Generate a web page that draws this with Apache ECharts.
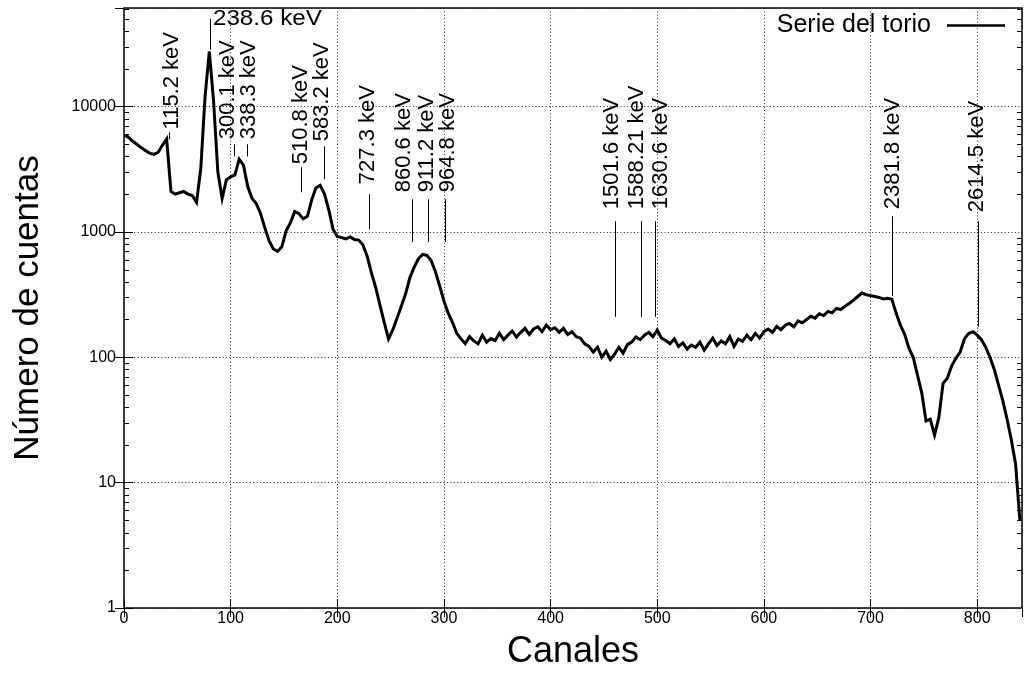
<!DOCTYPE html>
<html>
<head>
<meta charset="utf-8">
<script src="https://cdn.jsdelivr.net/npm/echarts@6/dist/echarts.min.js"></script>
<style>
  html, body { margin: 0; padding: 0; background: #fff; }
  #chart { width: 1024px; height: 675px; }
</style>
</head>
<body>
<div id="chart"></div>
<script>
// Thorium series gamma spectrum: counts per channel, sampled every 4 channels.
const CHANNEL_STEP = 4;
const counts = [
  5900, 5700, 5300, 5000, 4700, 4450, 4250, 4150, 4300, 4900,   // 0-36
  5500, 2100, 2000, 2050, 2100, 2000, 1950, 1720, 3200, 12000,  // 40-76
  27500, 11000, 3000, 1850, 2600, 2750, 2850, 3800, 3400, 2300, // 80-116
  1850, 1680, 1400, 1080, 850, 730, 700, 760, 1020, 1180,       // 120-156
  1450, 1400, 1270, 1330, 1800, 2250, 2350, 2000, 1500, 1050,   // 160-196
  920, 900, 880, 910, 870, 860, 790, 640, 470, 360,             // 200-236
  260, 190, 140, 165, 205, 255, 320, 430, 520, 610,             // 240-276
  660, 650, 590, 480, 370, 280, 225, 190, 155, 140,             // 280-316
  128, 146, 135, 128, 150, 132, 141, 136, 155, 138,             // 320-356
  150, 162, 145, 158, 170, 152, 168, 175, 160, 180,             // 360-396
  166, 172, 158, 170, 152, 160, 146, 142, 128, 122,             // 400-436
  110, 120, 100, 112, 96, 106, 120, 108, 126, 132,              // 440-476
  145, 138, 150, 158, 146, 165, 142, 136, 128, 140,             // 480-516
  122, 130, 116, 125, 120, 132, 114, 128, 142, 124,             // 520-556
  135, 128, 146, 122, 140, 134, 150, 138, 155, 142,             // 560-596
  160, 168, 158, 176, 166, 180, 186, 175, 195, 188,             // 600-636
  200, 212, 205, 222, 215, 232, 226, 245, 240, 255,             // 640-676
  268, 285, 305, 325, 315, 310, 305, 300, 292, 295,             // 680-716
  290, 225, 180, 152, 118, 100, 72, 52, 31, 32,                 // 720-756
  24, 33, 62, 68, 85, 98, 110, 140, 155, 160,                   // 760-796
  150, 138, 120, 100, 80, 60, 45, 32, 22, 14,                   // 800-836
  5                                                             // 840
];
const channels = counts.map((_, i) => i * CHANNEL_STEP);

// Axis ranges and tick labels
const X_MAX = 842;
const Y_MIN = 1;
const Y_MAX = 61000;
const yDecades = [1, 10, 100, 1000, 10000];

// Peak annotations: leader line channel, label channel, leader ends and label start (counts)
const peakLabels   = ['115.2 keV', '238.6 keV', '300.1 keV', '338.3 keV', '510.8 keV', '583.2 keV', '727.3 keV',
                      '860.6 keV', '911.2 keV', '964.8 keV', '1501.6 keV', '1588.21 keV', '1630.6 keV',
                      '2381.8 keV', '2614.5 keV'];
const leaderChannel = [42.5, 80.6, 103.1, 115.3, 165.9, 187.5, 229.9, 269.7, 285.2, 300.9, 460.2, 484.6, 497.7, 720.5, 800.7];
const labelChannel  = [45.0, 83.4, 97.5, 117.2, 165.9, 186.0, 229.0, 262.4, 283.7, 304.0, 457.1, 481.3, 503.8, 720.8, 800.0];
const leaderTop     = [6210, 50100, 4990, 4990, 3275, 4810, 1995, 1820, 1820, 1820, 1217, 1217, 1217, 1334, 1217];
const leaderBottom  = [5470, 28400, 4000, 4000, 2070, 2626, 1052, 829, 829, 829, 210, 210, 210, 308, 175];
const labelStart    = [6560, 49700, 5470, 5470, 3460, 5270, 2400, 2070, 2070, 2070, 1517, 1517, 1517, 1517, 1435];
const labelUpright  = [false, true, false, false, false, false, false, false, false, false, false, false, false, false, false];

const FONT = '"Liberation Sans", Arial, Helvetica, sans-serif';
const lg = Math.log10;

const spectrum = channels.map((c, i) => [c, lg(counts[i])]);

const minorTicks = [];
yDecades.forEach(d => {
  for (let m = 2; m <= 9; m++) {
    const v = d * m;
    if (v < Y_MAX) minorTicks.push([0, lg(v)]);
  }
});

const annotations = peakLabels.map((t, i) => [
  leaderChannel[i], lg(leaderTop[i]), lg(leaderBottom[i]), labelChannel[i], lg(labelStart[i]), labelUpright[i] ? 1 : 0, t
]);

const chart = echarts.init(document.getElementById('chart'), null, { renderer: 'canvas' });

const gridLine = { show: true, lineStyle: { color: '#222', width: 1, type: [1, 2.4] } };

chart.setOption({
  animation: false,
  backgroundColor: '#fff',
  textStyle: { fontFamily: FONT },
  grid: { left: 124, right: 2, top: 8, bottom: 65, show: true, borderColor: '#000', borderWidth: 1.5, backgroundColor: 'transparent' },
  legend: {
    data: ['Serie del torio'],
    right: 19, top: 13, padding: 0,
    align: 'right',
    icon: 'rect', itemWidth: 58, itemHeight: 2.5,
    selectedMode: false,
    textStyle: { fontFamily: FONT, fontSize: 25, color: '#000', padding: [0, 11, 0, 0] }
  },
  xAxis: [
    {
      type: 'value', min: 0, max: X_MAX, interval: 100,
      name: 'Canales', nameLocation: 'middle', nameGap: 26,
      nameTextStyle: { fontFamily: FONT, fontSize: 36, color: '#000' },
      axisLine: { show: false },
      axisTick: { show: true, inside: true, length: 9, lineStyle: { color: '#000', width: 1 } },
      axisLabel: { color: '#000', fontSize: 16, fontFamily: FONT, margin: 3, showMaxLabel: false },
      splitLine: gridLine
    },
    {
      type: 'value', min: 0, max: X_MAX, interval: 100, position: 'top',
      axisLine: { show: false },
      axisTick: { show: true, inside: true, length: 9, lineStyle: { color: '#000', width: 1 } },
      axisLabel: { show: false },
      splitLine: { show: false }
    }
  ],
  yAxis: [
    {
      type: 'value', min: lg(Y_MIN), max: lg(Y_MAX), interval: 1,
      name: 'Número de cuentas', nameLocation: 'middle', nameGap: 78, nameRotate: 90,
      nameTextStyle: { fontFamily: FONT, fontSize: 35, color: '#000' },
      axisLine: { show: false },
      axisTick: { show: true, inside: true, length: 9, lineStyle: { color: '#000', width: 1 } },
      axisLabel: {
        color: '#000', fontSize: 16, fontFamily: FONT, margin: 8, showMaxLabel: false,
        formatter: v => Number.isInteger(v) ? String(Math.round(Math.pow(10, v))) : ''
      },
      splitLine: gridLine
    },
    {
      type: 'value', min: lg(Y_MIN), max: lg(Y_MAX), interval: 1, position: 'right',
      axisLine: { show: false },
      axisTick: { show: true, inside: true, length: 9, lineStyle: { color: '#000', width: 1 } },
      axisLabel: { show: false },
      splitLine: { show: false }
    }
  ],
  series: [
    {
      name: 'Serie del torio',
      type: 'line',
      data: spectrum,
      showSymbol: false,
      symbol: 'none',
      color: '#000',
      lineStyle: { color: '#000', width: 3, join: 'miter' },
      z: 3
    },
    {
      // logarithmic minor ticks on both vertical borders
      type: 'custom',
      silent: true,
      clip: false,
      data: minorTicks,
      z: 4,
      renderItem(params, api) {
        const cs = params.coordSys;
        const y = Math.round(api.coord([0, api.value(1)])[1]) + 0.5;
        return {
          type: 'group',
          children: [
            { type: 'line', shape: { x1: cs.x, y1: y, x2: cs.x + 5, y2: y }, style: { stroke: '#000', lineWidth: 1 } },
            { type: 'line', shape: { x1: cs.x + cs.width - 5, y1: y, x2: cs.x + cs.width, y2: y }, style: { stroke: '#000', lineWidth: 1 } }
          ]
        };
      }
    },
    {
      // energy labels with leader lines
      type: 'custom',
      silent: true,
      clip: false,
      data: annotations,
      z: 5,
      renderItem(params, api) {
        const top = api.coord([api.value(0), api.value(1)]);
        const bot = api.coord([api.value(0), api.value(2)]);
        const lab = api.coord([api.value(3), api.value(4)]);
        const upright = api.value(5) === 1;
        const text = annotations[params.dataIndex][6];
        const lx = Math.round(top[0]) + 0.5;
        return {
          type: 'group',
          children: [
            { type: 'line', shape: { x1: lx, y1: top[1], x2: lx, y2: bot[1] }, style: { stroke: '#000', lineWidth: 1 } },
            {
              type: 'text',
              x: lab[0], y: lab[1],
              rotation: upright ? 0 : Math.PI / 2,
              scaleX: upright ? 1.1 : 1,
              style: {
                text: text,
                fill: '#000',
                font: '22px ' + FONT,
                align: 'left',
                verticalAlign: 'middle'
              }
            }
          ]
        };
      }
    }
  ]
});
</script>
</body>
</html>
